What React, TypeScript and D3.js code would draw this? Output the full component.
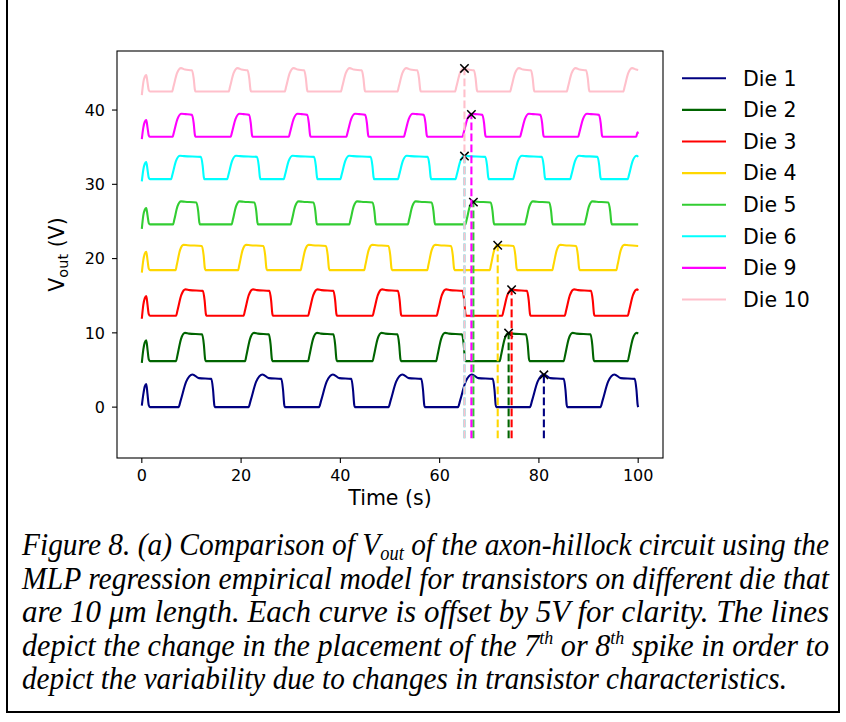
import React from "react";
import * as d3 from "d3";

// ---------- data ----------
const dieNames = ["Die 1", "Die 2", "Die 3", "Die 4", "Die 5", "Die 6", "Die 9", "Die 10"];
const dieColors = ["#000080", "#006400", "#ff0000", "#ffd700", "#32cd32", "#00ffff", "#ff00ff", "#ffc0cb"];

// low (resting) level of each curve, V
const baseLevels = [0, 6.2, 12.3, 18.45, 24.6, 30.7, 36.4, 42.5];
// plateau level of each spike, V
const topLevels = [3.9, 9.9, 15.75, 21.8, 27.65, 33.8, 39.45, 45.45];
// value at the top corner of each spike, V
const peakLevels = [4.4, 10.0, 15.85, 21.85, 27.7, 33.85, 39.5, 45.65];
// height of the first (short) spike, V
const firstSpikePeaks = [3.1, 9.0, 14.95, 20.9, 26.8, 33.0, 38.65, 44.7];
// value at t = 0 and t = 100, V
const startLevels = [0.2, 5.95, 11.9, 18.1, 24.0, 30.4, 36.1, 42.0];
const endLevels = [0, 9.9, 15.7, 21.7, 24.6, 33.7, 36.8, 45.4];
// rise time of each curve's spikes, s
const riseDurations = [2.8, 1.8, 1.9, 1.6, 1.6, 1.8, 1.8, 1.8];

// time at which each spike starts rising, s
const riseTimes = [
  [7.4, 21.5, 35.7, 49.7, 63.7, 78.2, 92.4],
  [6.9, 20.8, 33.5, 46.5, 59.3, 72.1, 85.0, 97.9],
  [6.9, 20.5, 33.5, 46.5, 59.4, 72.6, 85.2, 97.9],
  [6.8, 19.4, 32.0, 44.8, 57.5, 70.1, 82.7, 95.6],
  [6.3, 18.1, 30.0, 41.8, 53.6, 65.2, 77.2, 89.2],
  [5.9, 17.2, 28.6, 40.0, 51.6, 63.2, 74.8, 86.3, 97.9],
  [6.2, 17.9, 29.6, 41.2, 52.8, 64.6, 76.2, 87.9, 99.6],
  [6.1, 17.5, 28.8, 40.1, 51.5, 63.1, 74.2, 85.6, 97.0],
];
// time at which each spike is back at the resting level, s
const fallTimes = [
  [14.7, 28.8, 42.9, 57.0, 71.4, 85.7, 100.0],
  [12.85, 26.3, 39.3, 52.2, 65.2, 78.1, 91.1],
  [13.0, 26.4, 39.3, 52.3, 65.3, 78.3, 91.2],
  [12.8, 25.2, 37.8, 50.4, 63.0, 75.6, 88.2],
  [11.7, 23.4, 35.3, 47.2, 59.1, 71.0, 82.8, 94.7],
  [12.6, 23.9, 35.4, 46.8, 58.3, 69.9, 81.3, 92.5],
  [10.8, 22.3, 34.0, 45.7, 57.5, 69.3, 81.0, 92.8],
  [10.8, 22.0, 33.4, 45.0, 56.2, 67.6, 79.1, 90.2],
];

// markers on the 7th/8th spike
const markerTimes = [81.0, 73.9, 74.5, 71.7, 66.8, 65.0, 66.4, 65.0];
const markerValues = [4.35, 9.97, 15.8, 21.8, 27.6, 33.8, 39.4, 45.6];
const dashBottom = -4.2;

const xTicks = [0, 20, 40, 60, 80, 100];
const yTicks = [0, 10, 20, 30, 40];
const xDomain = [-5, 105];
const yDomain = [-6.85, 47.95];

// ---------- build each curve's vertices ----------
function curvePoints(i: number): [number, number][] {
  const b = baseLevels[i];
  const top = topLevels[i];
  const pk = peakLevels[i];
  const s = firstSpikePeaks[i] - b;
  const R = riseDurations[i];
  const F = 0.7;
  const pts: [number, number][] = [
    [0, startLevels[i]],
    [0.3, b + 0.55 * s],
    [0.6, b + 0.9 * s],
    [0.9, b + s],
    [1.15, b + 0.55 * s],
    [1.4, b + 0.08 * s],
    [1.65, b],
  ];
  riseTimes[i].forEach((r, k) => {
    const h = pk - b;
    pts.push([r, b]);
    pts.push([r + 0.15 * R, b + 0.2 * h]);
    pts.push([r + 0.55 * R, b + 0.78 * h]);
    pts.push([r + R, pk]);
    if (i === 0) pts.push([r + R + 1.3, top]);
    else pts.push([r + R + 0.8, top]);
    const f = fallTimes[i][k];
    if (f !== undefined) {
      const ht = top - b;
      pts.push([f - F, top - 0.1]);
      pts.push([f - 0.5 * F, b + 0.6 * ht]);
      pts.push([f - 0.15 * F, b + 0.08 * ht]);
      pts.push([f, b]);
    }
  });
  const kept = pts.filter((p) => p[0] < 100);
  kept.push([100, endLevels[i]]);
  return kept;
}

export default function App() {
  const W = 846;
  const H = 722;
  const x = d3.scaleLinear().domain(xDomain).range([117, 663]);
  const y = d3.scaleLinear().domain(yDomain).range([458, 51]);
  const line = d3
    .line<[number, number]>()
    .x((d) => x(d[0]))
    .y((d) => y(d[1]))
    .curve(d3.curveMonotoneX);

  const tickFont = "'DejaVu Sans', sans-serif";
  const capFont = "'Liberation Serif', 'Times New Roman', Times, serif";
  const capLines = [555, 588.5, 622, 655.5, 689];

  return (
    <svg
      width={W}
      height={H}
      style={{ position: "absolute", left: 0, top: 0, background: "#fff" }}
    >
      <rect x={0} y={0} width={W} height={H} fill="#fff" />
      {/* figure border */}
      <line x1={7} y1={0} x2={7} y2={713} stroke="#000" strokeWidth={2} />
      <line x1={839} y1={0} x2={839} y2={713} stroke="#000" strokeWidth={2} />
      <line x1={6} y1={712} x2={840} y2={712} stroke="#000" strokeWidth={2} />

      <defs>
        <clipPath id="plotclip">
          <rect x={117} y={51} width={546} height={407} />
        </clipPath>
      </defs>

      {/* curves, dashed lines and markers */}
      <g clipPath="url(#plotclip)">
        {dieNames.map((name, i) => {
          const mx = x(markerTimes[i]);
          const my = y(markerValues[i]);
          return (
            <g key={name}>
              <path d={line(curvePoints(i)) || ""} fill="none" stroke={dieColors[i]} strokeWidth={2.1} strokeLinejoin="round" />
              <line
                x1={mx}
                x2={mx}
                y1={y(dashBottom)}
                y2={my}
                stroke={dieColors[i]}
                strokeWidth={2.1}
                strokeDasharray="7.7,3.3"
              />
              <g stroke="#000" strokeWidth={1.5}>
                <line x1={mx - 4.2} y1={my - 4.2} x2={mx + 4.2} y2={my + 4.2} />
                <line x1={mx - 4.2} y1={my + 4.2} x2={mx + 4.2} y2={my - 4.2} />
              </g>
            </g>
          );
        })}
      </g>

      {/* axes box */}
      <rect x={117} y={51} width={546} height={407} fill="none" stroke="#000" strokeWidth={1.1} />

      {/* x ticks */}
      {xTicks.map((t) => (
        <g key={"x" + t}>
          <line x1={x(t)} x2={x(t)} y1={458} y2={463} stroke="#000" strokeWidth={1.1} />
          <text x={x(t)} y={481} textAnchor="middle" fontFamily={tickFont} fontSize={16} fill="#000">
            {t}
          </text>
        </g>
      ))}
      {/* y ticks */}
      {yTicks.map((t) => (
        <g key={"y" + t}>
          <line x1={112} x2={117} y1={y(t)} y2={y(t)} stroke="#000" strokeWidth={1.1} />
          <text x={105} y={y(t) + 5.8} textAnchor="end" fontFamily={tickFont} fontSize={16} fill="#000">
            {t}
          </text>
        </g>
      ))}

      {/* axis labels */}
      <text x={390} y={505} textAnchor="middle" fontFamily={tickFont} fontSize={20.5} fill="#000">
        Time (s)
      </text>
      <text
        transform={`translate(64, ${(51 + 458) / 2}) rotate(-90)`}
        textAnchor="middle"
        fontFamily={tickFont}
        fontSize={20.5}
        fill="#000"
      >
        V<tspan fontSize={14.5} dy={4}>out</tspan>
        <tspan dy={-4}> (V)</tspan>
      </text>

      {/* legend */}
      {dieNames.map((name, i) => {
        const ly = 78.3 + i * 31.6;
        return (
          <g key={"lg" + name}>
            <line x1={682} x2={726} y1={ly} y2={ly} stroke={dieColors[i]} strokeWidth={2.1} />
            <text x={743} y={ly + 7.3} fontFamily={tickFont} fontSize={20.5} fill="#000">
              {name}
            </text>
          </g>
        );
      })}

      {/* caption */}
      <g fontFamily={capFont} fontStyle="italic" fontSize={32} fill="#000">
        <text x={22} y={capLines[0]} textLength={807} lengthAdjust="spacingAndGlyphs">
          Figure 8. (a) Comparison of V<tspan fontSize={20} dy={5}>out</tspan>
          <tspan dy={-5}> of the axon-hillock circuit using the</tspan>
        </text>
        <text x={22} y={capLines[1]} textLength={807} lengthAdjust="spacingAndGlyphs">
          MLP regression empirical model for transistors on different die that
        </text>
        <text x={22} y={capLines[2]} textLength={807} lengthAdjust="spacingAndGlyphs">
          are 10 μm length. Each curve is offset by 5V for clarity. The lines
        </text>
        <text x={22} y={capLines[3]} textLength={807} lengthAdjust="spacingAndGlyphs">
          depict the change in the placement of the 7<tspan fontSize={19} dy={-12}>th</tspan>
          <tspan dy={12}> or 8</tspan>
          <tspan fontSize={19} dy={-12}>th</tspan>
          <tspan dy={12}> spike in order to</tspan>
        </text>
        <text x={22} y={capLines[4]} textLength={765} lengthAdjust="spacingAndGlyphs">
          depict the variability due to changes in transistor characteristics.
        </text>
      </g>
    </svg>
  );
}
